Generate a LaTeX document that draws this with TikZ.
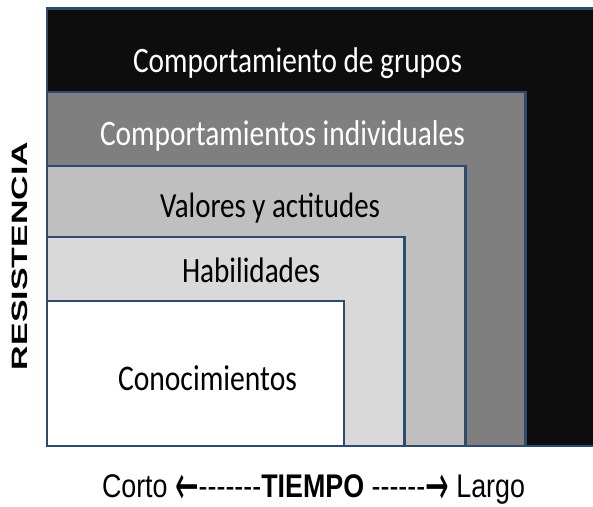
\documentclass[tikz,border=0pt]{standalone}
\usepackage{fontspec}
\usepackage{graphicx}
\setmainfont{Carlito}
\newfontfamily\arialf{Liberation Sans}
\newfontfamily\dejavu{DejaVu Sans}
\definecolor{bord}{HTML}{2E4A6E}
\definecolor{cblack}{HTML}{0D0D0D}
\definecolor{cdark}{HTML}{7F7F7F}
\definecolor{cmid}{HTML}{BFBFBF}
\definecolor{clight}{HTML}{D9D9D9}
\newcommand\fitw[2]{\scalebox{1}[1.22]{\resizebox{#1pt}{!}{#2}}}
\newcommand\myarrow[1]{{\dejavu\raisebox{-0.22em}{\scalebox{1.05}[1.7]{#1}}}}
\begin{document}
\begin{tikzpicture}[x=1pt,y=-1pt,
  box/.style={draw=bord,line width=2.5pt},
  txt/.style={inner sep=0pt,outer sep=0pt,anchor=base west}]
\useasboundingbox (0,0) rectangle (593,506);
\fill[white] (0,0) rectangle (593,506);
\draw[box,fill=cblack] (47,8.5) rectangle (600,446);
\draw[box,fill=cdark] (47,92) rectangle (525.5,446);
\draw[box,fill=cmid] (47,166) rectangle (465.5,446);
\draw[box,fill=clight] (47,237) rectangle (404.5,446);
\draw[box,fill=white] (47,301) rectangle (344,446);
\node[txt,text=white] (t1) at (133,72) {\fitw{329}{Comportamiento de grupos}};
\node[txt,text=white] (t2) at (100,145) {\fitw{365}{Comportamientos individuales}};
\node[txt,text=black] (t3) at (160,217) {\fitw{220}{Valores y actitudes}};
\node[txt,text=black] (t4) at (182,282) {\fitw{138}{Habilidades}};
\node[txt,text=black] (t5) at (118,390) {\fitw{179}{Conocimientos}};
\node[txt,rotate=90] (res) at (27.5,370) {\resizebox{228pt}{15.5pt}{\arialf\bfseries RESISTENCIA}};
\node[txt] (tiempo) at (102,497) {\fitw{423}{\fontsize{25.4pt}{30pt}\arialf Corto \myarrow{←}-------\textbf{TIEMPO} ------\myarrow{→} Largo}};
\end{tikzpicture}
\end{document}
